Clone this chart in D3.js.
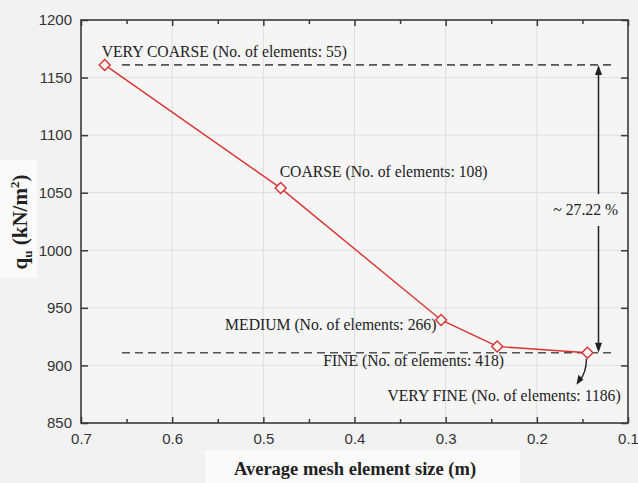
<!DOCTYPE html>
<html>
<head>
<meta charset="utf-8">
<script src="https://cdn.jsdelivr.net/npm/d3@7"></script>
<style>
  html, body { margin: 0; padding: 0; background: #f2f2f2; }
  svg { display: block; }
</style>
</head>
<body>
<svg id="chart" width="638" height="483"></svg>
<script>
// ---- data ----
const meshNames = ["VERY COARSE", "COARSE", "MEDIUM", "FINE", "VERY FINE"];
const elementCounts = [55, 108, 266, 418, 1186];
const meshSize = [0.674, 0.481, 0.305, 0.2435, 0.1445];
const qu = [1161, 1054, 939.5, 916.5, 911];
const xTicks = [0.7, 0.6, 0.5, 0.4, 0.3, 0.2, 0.1];
const xMinorTicks = [0.65, 0.55, 0.45, 0.35, 0.25, 0.15];
const yTicks = [850, 900, 950, 1000, 1050, 1100, 1150, 1200];
const refUpper = 1161;
const refLower = 911;
const diffLabel = "~ 27.22 %";

(function () {
// ---- layout ----
const svg = d3.select("#chart");
const L = 81, R = 628, T = 20, B = 423;
const x = d3.scaleLinear().domain([0.7, 0.1]).range([L, R]);
const y = d3.scaleLinear().domain([850, 1200]).range([B, T]);
const red = "#db3131";
const axisCol = "#3a3a3a";
const serif = "Liberation Serif, Times New Roman, serif";

// scan-like lighter patches behind the titles
svg.append("rect").attr("x", 0).attr("y", 160).attr("width", 37).attr("height", 118).attr("fill", "#fafafa");
svg.append("rect").attr("x", 205).attr("y", 451).attr("width", 315).attr("height", 32).attr("fill", "#fafafa");

// plot background
svg.append("rect").attr("x", L).attr("y", T).attr("width", R - L).attr("height", B - T)
  .attr("fill", "#f5f5f5");

// grid
const grid = svg.append("g").attr("stroke", "#dedede").attr("stroke-width", 1);
xTicks.slice(1, -1).forEach(v => grid.append("line")
  .attr("x1", x(v)).attr("x2", x(v)).attr("y1", T).attr("y2", B));
yTicks.slice(1, -1).forEach(v => grid.append("line")
  .attr("x1", L).attr("x2", R).attr("y1", y(v)).attr("y2", y(v)));

// axes (ticks inward, mirrored)
function styleAxis(g) {
  g.select(".domain").remove();
  g.selectAll(".tick line").attr("stroke", axisCol).attr("stroke-width", 1.5);
  g.selectAll("text").attr("fill", "#333").attr("font-family", "Liberation Sans, Arial, sans-serif")
    .attr("font-size", 15);
}
const gBottom = svg.append("g").attr("transform", `translate(0,${B})`)
  .call(d3.axisBottom(x).tickValues(xTicks).tickFormat(d3.format(".1f")).tickSizeInner(-6).tickSizeOuter(0).tickPadding(10));
styleAxis(gBottom);
const gBottomMinor = svg.append("g").attr("transform", `translate(0,${B})`)
  .call(d3.axisBottom(x).tickValues(xMinorTicks).tickFormat("").tickSizeInner(-4).tickSizeOuter(0));
styleAxis(gBottomMinor);
const gTop = svg.append("g").attr("transform", `translate(0,${T})`)
  .call(d3.axisTop(x).tickValues(xTicks).tickFormat("").tickSizeInner(-6).tickSizeOuter(0));
styleAxis(gTop);
const gTopMinor = svg.append("g").attr("transform", `translate(0,${T})`)
  .call(d3.axisTop(x).tickValues(xMinorTicks).tickFormat("").tickSizeInner(-4).tickSizeOuter(0));
styleAxis(gTopMinor);
const gLeft = svg.append("g").attr("transform", `translate(${L},0)`)
  .call(d3.axisLeft(y).tickValues(yTicks).tickFormat(d3.format("d")).tickSizeInner(-7).tickSizeOuter(0).tickPadding(9));
styleAxis(gLeft);
const gRight = svg.append("g").attr("transform", `translate(${R},0)`)
  .call(d3.axisRight(y).tickValues(yTicks).tickFormat("").tickSizeInner(-7).tickSizeOuter(0));
styleAxis(gRight);

// frame
svg.append("rect").attr("x", L).attr("y", T).attr("width", R - L).attr("height", B - T)
  .attr("fill", "none").attr("stroke", axisCol).attr("stroke-width", 1.6);

// dashed reference lines
[refUpper, refLower].forEach(v => svg.append("line")
  .attr("x1", 122).attr("x2", 616).attr("y1", y(v)).attr("y2", y(v))
  .attr("stroke", "#555").attr("stroke-width", 1.6).attr("stroke-dasharray", "8,5"));

// data line + markers
const pts = meshSize.map((s, i) => ({ s, q: qu[i], name: meshNames[i], n: elementCounts[i] }));
svg.append("path").datum(pts)
  .attr("d", d3.line().x(d => x(d.s)).y(d => y(d.q)))
  .attr("fill", "none").attr("stroke", red).attr("stroke-width", 1.4);
svg.selectAll(".mk").data(pts).join("path")
  .attr("transform", d => `translate(${x(d.s)},${y(d.q)})`)
  .attr("d", "M0,-5.5L5.5,0L0,5.5L-5.5,0Z")
  .attr("fill", "#f7f7f7").attr("stroke", red).attr("stroke-width", 1.4);

// labels (positions in pixels relative to each point)
const labelOffsets = [[-3, -8], [-1, -11], [-216, 10], [-174, 20], [-200, 48]];
svg.selectAll(".lbl").data(pts).join("text")
  .attr("x", (d, i) => x(d.s) + labelOffsets[i][0])
  .attr("y", (d, i) => y(d.q) + labelOffsets[i][1])
  .attr("font-family", serif).attr("font-size", 15.7).attr("fill", "#222")
  .text(d => `${d.name} (No. of elements: ${d.n})`);

// difference arrow
const ax = 598.5;
const ya = y(refUpper), yb = y(refLower);
const gapTop = 194, gapBot = 226;
svg.append("line").attr("x1", ax).attr("x2", ax).attr("y1", ya + 8).attr("y2", gapTop)
  .attr("stroke", "#222").attr("stroke-width", 1.5);
svg.append("line").attr("x1", ax).attr("x2", ax).attr("y1", gapBot).attr("y2", yb - 8)
  .attr("stroke", "#222").attr("stroke-width", 1.5);
svg.append("path").attr("d", `M${ax},${ya}L${ax - 3.5},${ya + 10}L${ax + 3.5},${ya + 10}Z`).attr("fill", "#222");
svg.append("path").attr("d", `M${ax},${yb}L${ax - 3.5},${yb - 10}L${ax + 3.5},${yb - 10}Z`).attr("fill", "#222");
svg.append("text").attr("x", 618).attr("y", 215).attr("text-anchor", "end")
  .attr("font-family", serif).attr("font-size", 15.7).attr("fill", "#222").text(diffLabel);

// curved pointer to VERY FINE
const vf = pts[4];
const px = x(vf.s), py = y(vf.q);
svg.append("path")
  .attr("d", `M${px - 1},${py + 6} Q${px - 1},${py + 20} ${px - 8},${py + 28}`)
  .attr("fill", "none").attr("stroke", "#222").attr("stroke-width", 1.4);
svg.append("path")
  .attr("d", `M${px - 11},${py + 32} L${px - 9},${py + 22} L${px - 4},${py + 27} Z`)
  .attr("fill", "#222");

// axis titles
svg.append("text").attr("x", 355).attr("y", 475).attr("text-anchor", "middle")
  .attr("font-family", serif).attr("font-size", 18.5).attr("font-weight", "bold").attr("fill", "#222")
  .text("Average mesh element size (m)");
const yt = svg.append("text").attr("transform", `translate(27,222) rotate(-90)`)
  .attr("text-anchor", "middle")
  .attr("font-family", serif).attr("font-size", 21).attr("font-weight", "bold").attr("fill", "#222");
yt.append("tspan").text("q");
yt.append("tspan").attr("font-size", 13).attr("dy", 5).text("u");
yt.append("tspan").attr("dy", -5).text(" (kN/m");
yt.append("tspan").attr("font-size", 13).attr("dy", -8).text("2");
yt.append("tspan").attr("dy", 8).text(")");
})();
</script>
</body>
</html>
